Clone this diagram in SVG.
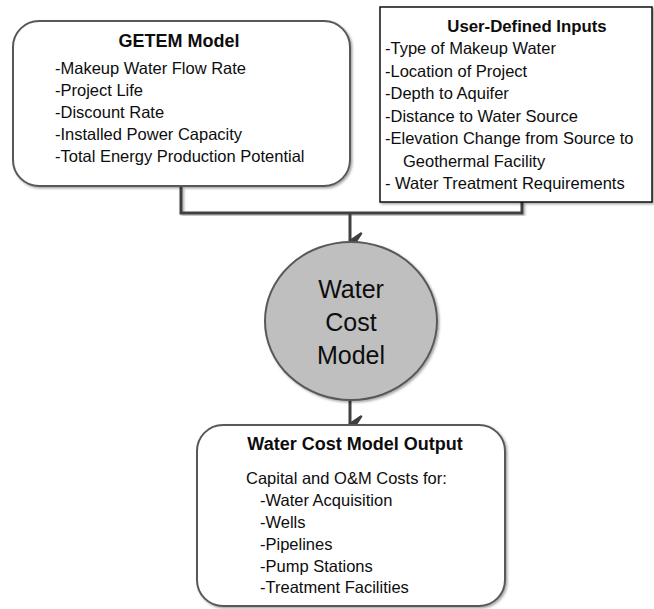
<svg xmlns="http://www.w3.org/2000/svg" width="654" height="609" viewBox="0 0 654 609">
  <defs>
    <filter id="sh" x="-10%" y="-10%" width="120%" height="120%">
      <feDropShadow dx="1.5" dy="1.5" stdDeviation="1.2" flood-color="#000" flood-opacity="0.35"/>
    </filter>
    <marker id="arr" markerUnits="userSpaceOnUse" markerWidth="18" markerHeight="18" refX="9" refY="16" orient="auto-start-reverse" viewBox="0 0 18 18">
      <path d="M1.5,5 L9,16 L16.5,5 L9,10 Z" fill="#404040" stroke="#404040" stroke-width="2.5" stroke-linejoin="round"/>
    </marker>
  </defs>
  <style>
    text { font-family: "Liberation Sans", Arial, sans-serif; fill: #0d0d0d; }
    .t { font-size: 17.5px; font-weight: bold; text-anchor: middle; }
    .b { font-size: 16.5px; }
    .c { font-size: 25px; text-anchor: middle; }
    .rbox { fill: #fff; stroke: #595959; stroke-width: 2; }
    .conn { fill: none; stroke: #404040; stroke-width: 3; }
  </style>
  <rect width="654" height="609" fill="#fff"/>

  <g id="connectors">
    <polyline class="conn" points="181,187 181,213 522,213 522,202" filter="url(#sh)"/>
    <line class="conn" x1="350" y1="213" x2="350" y2="241" marker-end="url(#arr)"/>
    <line class="conn" x1="350" y1="400" x2="350" y2="424" marker-end="url(#arr)"/>
  </g>

  <g id="getem">
    <rect class="rbox" x="13" y="21" width="337" height="165" rx="26" ry="26" filter="url(#sh)"/>
    <text class="t" x="179" y="47" style="font-size:18px">GETEM Model</text>
    <text class="b" x="55" y="74">-Makeup Water Flow Rate</text>
    <text class="b" x="55" y="96">-Project Life</text>
    <text class="b" x="55" y="118">-Discount Rate</text>
    <text class="b" x="55" y="140">-Installed Power Capacity</text>
    <text class="b" x="55" y="162">-Total Energy Production Potential</text>
  </g>

  <g id="user-inputs">
    <rect x="380" y="7" width="272" height="195" fill="#fff" stroke="#111" stroke-width="1.5" filter="url(#sh)"/>
    <text class="t" x="527" y="32" style="font-size:16.8px">User-Defined Inputs</text>
    <text class="b" x="385" y="54">-Type of Makeup Water</text>
    <text class="b" x="385" y="77">-Location of Project</text>
    <text class="b" x="385" y="99">-Depth to Aquifer</text>
    <text class="b" x="385" y="122">-Distance to Water Source</text>
    <text class="b" x="385" y="144">-Elevation Change from Source to</text>
    <text class="b" x="403" y="167">Geothermal Facility</text>
    <text class="b" x="385" y="189">- Water Treatment Requirements</text>
  </g>

  <g id="water-cost-model">
    <ellipse cx="351" cy="321" rx="86" ry="79" fill="#bfbfbf" stroke="#595959" stroke-width="2" filter="url(#sh)"/>
    <text class="c" x="351" y="298">Water</text>
    <text class="c" x="351" y="331">Cost</text>
    <text class="c" x="351" y="364">Model</text>
  </g>

  <g id="output">
    <rect class="rbox" x="197" y="425" width="308" height="181" rx="26" ry="26" filter="url(#sh)"/>
    <text class="t" x="355" y="450" style="font-size:18px">Water Cost Model Output</text>
    <text class="b" x="246" y="484">Capital and O&amp;M Costs for:</text>
    <text class="b" x="260" y="506">-Water Acquisition</text>
    <text class="b" x="260" y="528">-Wells</text>
    <text class="b" x="260" y="550">-Pipelines</text>
    <text class="b" x="260" y="572">-Pump Stations</text>
    <text class="b" x="260" y="593">-Treatment Facilities</text>
  </g>
</svg>
